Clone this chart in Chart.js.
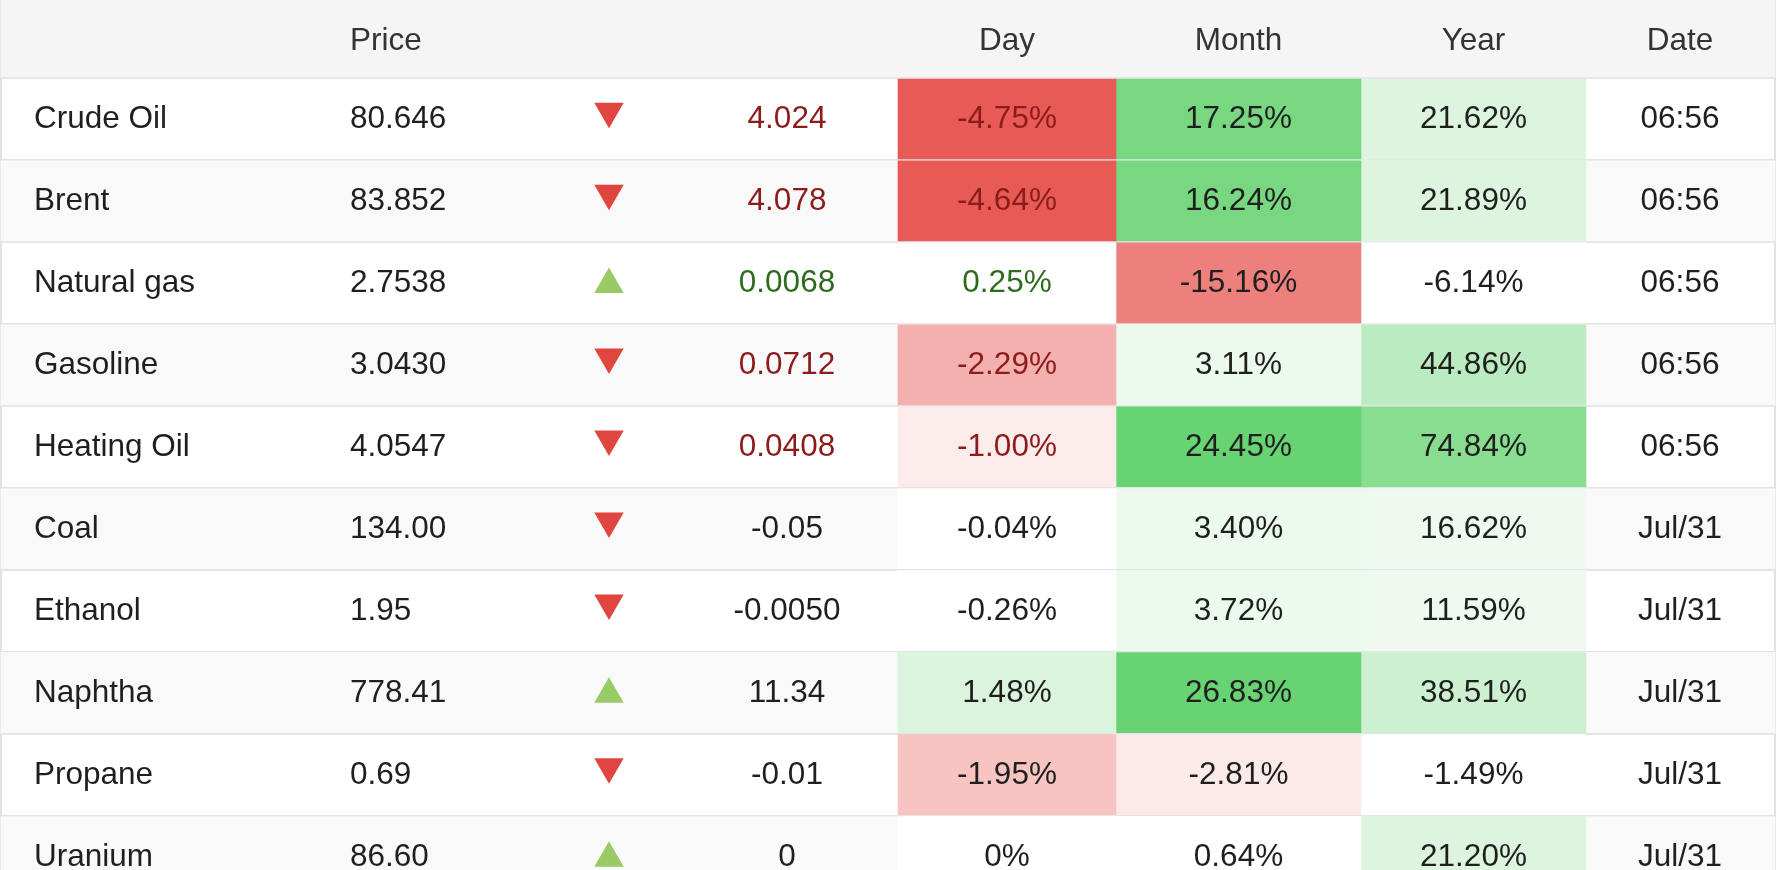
<!DOCTYPE html>
<html>
<head>
<meta charset="utf-8">
<script src="https://cdn.jsdelivr.net/npm/chart.js@4.4.0/dist/chart.umd.min.js"></script>
<style>
  html, body { margin: 0; padding: 0; background: #fff; overflow: hidden; }
  canvas { display: block; }
</style>
</head>
<body>
<canvas id="chart" width="1786" height="870"></canvas>
<script>
var names = ['Crude Oil', 'Brent', 'Natural gas', 'Gasoline', 'Heating Oil', 'Coal', 'Ethanol', 'Naphtha', 'Propane', 'Uranium'];
var prices = ['80.646', '83.852', '2.7538', '3.0430', '4.0547', '134.00', '1.95', '778.41', '0.69', '86.60'];
var changes = ['4.024', '4.078', '0.0068', '0.0712', '0.0408', '-0.05', '-0.0050', '11.34', '-0.01', '0'];
var day = [-4.75, -4.64, 0.25, -2.29, -1.00, -0.04, -0.26, 1.48, -1.95, 0];
var month = [17.25, 16.24, -15.16, 3.11, 24.45, 3.40, 3.72, 26.83, -2.81, 0.64];
var year = [21.62, 21.89, -6.14, 44.86, 74.84, 16.62, 11.59, 38.51, -1.49, 21.20];
var dates = ['06:56', '06:56', '06:56', '06:56', '06:56', 'Jul/31', 'Jul/31', 'Jul/31', 'Jul/31', 'Jul/31'];
var headers = ['Price', 'Day', 'Month', 'Year', 'Date'];

// layout (x in pixels of the x scale, y in rows of the y scale)
var ROW_PX = 81.95;
var HEADER_PX = 78;
var Y_MIN = -0.5 - HEADER_PX / ROW_PX;
var Y_MAX = Y_MIN + 870 / ROW_PX;
var COL = {
  name: 34, price: 350, arrow: 609, change: 787,
  day: [898, 1116], month: [1116, 1361], year: [1361, 1586],
  date: 1680, table: [1, 1775]
};
var FONT = '31.5px "Liberation Sans", Arial, Helvetica, sans-serif';
var TEXT = '#1f1f1f', HEAD_TEXT = '#333333', RED_TEXT = '#8c1c1c', GREEN_TEXT = '#2f6b1f';
var RED = [232, 90, 86], GREEN = [103, 211, 114];

// heat colour: one step per band of the column, mixed from white
function heat(v, step, k) {
  var level = Math.max(0, Math.ceil(Math.abs(v) / step) - 1);
  var t = Math.min(1, level * k);
  var c = v < 0 ? RED : GREEN;
  var mix = function (n) { return Math.round(255 - (255 - c[n]) * t); };
  return 'rgb(' + mix(0) + ',' + mix(1) + ',' + mix(2) + ')';
}

function pct(v) { return v === 0 ? '0%' : v.toFixed(2) + '%'; }

var live = dates.map(function (d) { return d.indexOf(':') > -1; });
var moveColor = function (i) {
  if (!live[i]) return TEXT;
  return day[i] < 0 ? RED_TEXT : GREEN_TEXT;
};

var rows = names.map(function (n, i) { return i; });
var headerY = Y_MIN + 38.5 / ROW_PX;

function cells(col) {
  return rows.map(function (i) { return { x: col, y: i }; });
}

var tableText = {
  id: 'tableText',
  afterDatasetsDraw: function (chart) {
    var ctx = chart.ctx, x = chart.scales.x, y = chart.scales.y;
    var mid = function (c) { return x.getPixelForValue((c[0] + c[1]) / 2); };
    ctx.save();
    ctx.font = FONT;
    ctx.textBaseline = 'alphabetic';

    var hy = y.getPixelForValue(headerY) + 11.5;
    ctx.fillStyle = HEAD_TEXT;
    ctx.textAlign = 'left';
    ctx.fillText(headers[0], x.getPixelForValue(COL.price), hy);
    ctx.textAlign = 'center';
    ctx.fillText(headers[1], mid(COL.day), hy);
    ctx.fillText(headers[2], mid(COL.month), hy);
    ctx.fillText(headers[3], mid(COL.year), hy);
    ctx.fillText(headers[4], x.getPixelForValue(COL.date), hy);

    rows.forEach(function (i) {
      var by = y.getPixelForValue(i) + 9;
      ctx.textAlign = 'left';
      ctx.fillStyle = TEXT;
      ctx.fillText(names[i], x.getPixelForValue(COL.name), by);
      ctx.fillText(prices[i], x.getPixelForValue(COL.price), by);
      ctx.textAlign = 'center';
      ctx.fillStyle = moveColor(i);
      ctx.fillText(changes[i], x.getPixelForValue(COL.change), by);
      ctx.fillText(pct(day[i]), mid(COL.day), by);
      ctx.fillStyle = TEXT;
      ctx.fillText(pct(month[i]), mid(COL.month), by);
      ctx.fillText(pct(year[i]), mid(COL.year), by);
      ctx.fillText(dates[i], x.getPixelForValue(COL.date), by);
    });
    ctx.restore();
  }
};

// datasets listed first are drawn on top
var config = {
  type: 'bar',
  data: {
    datasets: [{
      // direction markers
      type: 'scatter',
      data: rows.map(function (i) {
        return { x: COL.arrow, y: i + (day[i] < 0 ? -7.8 : 1.6) / ROW_PX };
      }),
      pointStyle: 'triangle',
      pointRadius: 17,
      pointBorderWidth: 0,
      pointRotation: day.map(function (v) { return v < 0 ? 180 : 0; }),
      pointBackgroundColor: day.map(function (v) { return v < 0 ? '#e0463f' : '#98ca66'; })
    }, {
      grouped: false,
      barThickness: 80,
      data: cells(COL.day),
      backgroundColor: day.map(function (v) { return heat(v, 0.5, 0.12); })
    }, {
      grouped: false,
      barThickness: 80,
      data: cells(COL.month),
      backgroundColor: month.map(function (v) { return heat(v, 2.2, 0.128); })
    }, {
      grouped: false,
      barThickness: 80,
      data: cells(COL.year),
      backgroundColor: year.map(function (v) { return heat(v, 10, 0.112); })
    }, {
      // striped rows
      grouped: false,
      barThickness: 80,
      data: rows.filter(function (i) { return i % 2 === 1; }).map(function (i) { return { x: COL.table, y: i }; }),
      backgroundColor: '#f9f9f9'
    }, {
      // header band
      grouped: false,
      barThickness: 77,
      data: [{ x: COL.table, y: headerY }],
      backgroundColor: '#f5f5f5'
    }]
  },
  options: {
    indexAxis: 'y',
    responsive: false,
    animation: false,
    events: [],
    layout: { autoPadding: false, padding: { left: 0, right: 10, top: 0, bottom: 0 } },
    plugins: { legend: { display: false }, tooltip: { enabled: false } },
    scales: {
      x: {
        type: 'linear',
        min: 0,
        max: 1776,
        offset: false,
        beginAtZero: false,
        ticks: { display: false },
        border: { display: false },
        grid: { color: '#e2e2e2', lineWidth: 2, drawTicks: false, offset: false },
        afterBuildTicks: function (scale) {
          scale.ticks = COL.table.map(function (v) { return { value: v }; });
        }
      },
      y: {
        type: 'linear',
        reverse: true,
        min: Y_MIN,
        max: Y_MAX,
        offset: false,
        beginAtZero: false,
        ticks: { display: false },
        border: { display: false },
        grid: { color: '#e4e4e4', lineWidth: 2, drawTicks: false, offset: false },
        afterBuildTicks: function (scale) {
          scale.ticks = [-0.5].concat(rows.map(function (i) { return i + 0.5; }))
            .map(function (v) { return { value: v }; });
        }
      }
    }
  },
  plugins: [tableText]
};

window.onload = function () {
  var ctx = document.getElementById('chart');
  window.myTable = new Chart(ctx, config);
};
</script>
</body>
</html>
